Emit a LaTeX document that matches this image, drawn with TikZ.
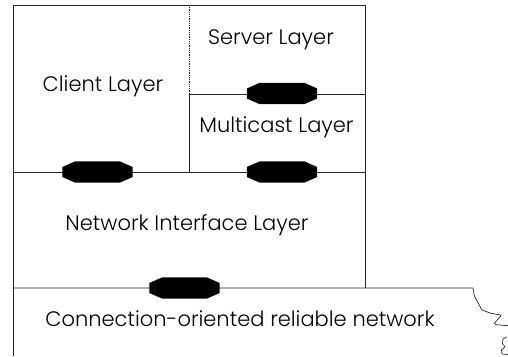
\documentclass[tikz,border=0pt]{standalone}
\usepackage{fontspec}
\setmainfont{Poppins}[UprightFont=* Light]
\tikzset{
  frame/.style={line width=0.7pt, draw=black!85},
  dots/.style={line width=0.6pt, draw=black!85, dash pattern=on 0.8pt off 1pt},
  layertext/.style={font=\fontsize{21}{24}\selectfont, anchor=base, inner sep=0pt},
  linkbox/.style={minimum width=70pt, minimum height=21pt, inner sep=0pt, draw=none}
}
% black chamfered link marker sitting on a boundary line
\newcommand\linkmarker[2]{%
  \node[linkbox] (#1) at (#2) {};
  \fill ([yshift=5pt]#1.west) -- ([xshift=13pt]#1.north west) -- ([xshift=-13pt]#1.north east)
     -- ([yshift=5pt]#1.east) -- ([yshift=-5pt]#1.east) -- ([xshift=-13pt]#1.south east)
     -- ([xshift=13pt]#1.south west) -- ([yshift=-5pt]#1.west) -- cycle;
}
\begin{document}
\begin{tikzpicture}[x=1pt, y=-1pt]
\useasboundingbox (0,0) rectangle (508,356);

% layer boundaries
\coordinate (tl) at (13,5);
\coordinate (tr) at (365,5);
\coordinate (bl) at (13,356);
\draw[frame] (bl) -- (tl) -- (tr) -- (365,288);
\draw[frame] (13,172) -- (365,172);
\draw[frame] (189,94) -- (365,94);
\draw[frame] (189,94) -- (189,172);
\draw[dots] (189,5) -- (189,94);

% network edge with torn right end
\draw[frame, line join=round] (13,288) -- (473,288) -- (474.3,295.7) -- (477.7,302.3)
  -- (482,310) -- (491,313.3) -- (499.3,314.7) -- (501,315.7) -- (494.3,323.3)
  -- (496,324.7) -- (508,325.7);
\draw[frame, line join=round] (506.5,337) -- (503,339) -- (502.5,344) -- (505,346.5)
  -- (501.5,350) -- (502,354) -- (508,354.5);

% labels
\node[layertext] (server) at (271,44) {Server Layer};
\node[layertext] (client) at (103,91) {Client Layer};
\node[layertext] (mcast) at (276.5,132) {Multicast Layer};
\node[layertext] (netif) at (187,230) {Network Interface Layer};
\node[layertext] (net) at (240,326.5) {Connection-oriented reliable network};

% link markers
\linkmarker{srvlink}{282,93.5}
\linkmarker{clilink}{97.5,172}
\linkmarker{mclink}{282,172}
\linkmarker{netlink}{184.5,288}
\end{tikzpicture}
\end{document}
